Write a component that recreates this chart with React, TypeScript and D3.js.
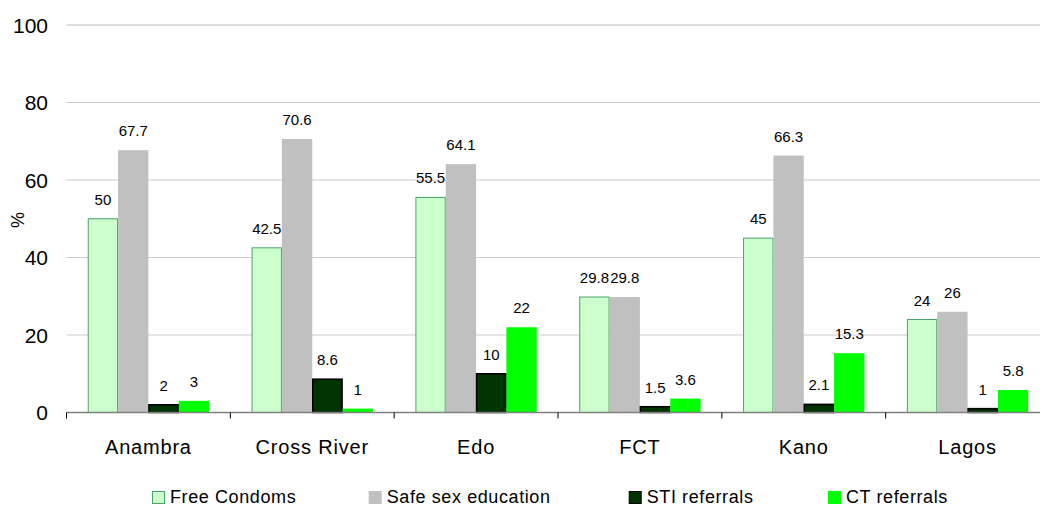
import React from "react";
import * as d3 from "d3";

const categories = ["Anambra", "Cross River", "Edo", "FCT", "Kano", "Lagos"];
const seriesNames = ["Free Condoms", "Safe sex education", "STI referrals", "CT referrals"];
const freeCondoms = [50, 42.5, 55.5, 29.8, 45, 24];
const safeSexEducation = [67.7, 70.6, 64.1, 29.8, 66.3, 26];
const stiReferrals = [2, 8.6, 10, 1.5, 2.1, 1];
const ctReferrals = [3, 1, 22, 3.6, 15.3, 5.8];
const yTicks = [0, 20, 40, 60, 80, 100];

const seriesValues = [freeCondoms, safeSexEducation, stiReferrals, ctReferrals];
const fills = ["#ccffcc", "#c0c0c0", "#003300", "#00ff00"];
const strokes = ["#4aa36b", "none", "#000000", "none"];
const legendTextX = [170, 386.7, 646.7, 846];

const W = 1040;
const H = 507;
const FONT = "'Liberation Sans', Arial, Helvetica, sans-serif";

export default function App() {
  const x0 = d3.scaleBand<string>().domain(categories).range([66.5, 1049.5]).padding(0);
  const x1 = d3
    .scaleBand<string>()
    .domain(seriesNames)
    .range([0, x0.bandwidth()])
    .paddingInner(0)
    .paddingOuter(0.7);
  const y = d3.scaleLinear().domain([0, 100]).range([412.5, 25]);

  const boundaries = categories.map((c) => x0(c) as number);

  return (
    <svg
      width={W}
      height={H}
      style={{ position: "absolute", left: 0, top: 0, background: "#fff" }}
      fontFamily={FONT}
    >
      {yTicks
        .filter((t) => t > 0)
        .map((t) => (
          <line
            key={"g" + t}
            x1={66.5}
            x2={W}
            y1={y(t)}
            y2={y(t)}
            stroke={t === 100 ? "#dcdcdc" : "#cccccc"}
            strokeWidth={t === 100 ? 2 : 1}
          />
        ))}
      {yTicks.map((t) => (
        <text
          key={"yl" + t}
          x={48}
          y={y(t)}
          dy="0.36em"
          textAnchor="end"
          fontSize={21}
          fill="#000"
        >
          {t}
        </text>
      ))}
      <text
        transform={`translate(24,220) rotate(-90)`}
        textAnchor="middle"
        fontSize={18}
        fill="#000"
      >
        %
      </text>
      {categories.map((c, ci) => (
        <g key={c} transform={`translate(${x0(c)},0)`}>
          {seriesNames.map((s, si) => {
            const v = seriesValues[si][ci];
            const bx = x1(s) as number;
            const bw = x1.bandwidth();
            const hasStroke = strokes[si] !== "none";
            return (
              <g key={s}>
                <rect
                  x={bx + (hasStroke ? 0.5 : 0)}
                  y={y(v)}
                  width={bw - (hasStroke ? 1 : 0)}
                  height={y(0) - y(v)}
                  fill={fills[si]}
                  stroke={strokes[si]}
                  strokeWidth={hasStroke ? (si === 2 ? 1.5 : 1) : 0}
                />
                <text
                  x={bx + bw / 2}
                  y={y(v) - 14}
                  textAnchor="middle"
                  fontSize={15}
                  fill="#000"
                >
                  {v}
                </text>
              </g>
            );
          })}
        </g>
      ))}
      <line x1={66.5} x2={W} y1={412.5} y2={412.5} stroke="#808080" strokeWidth={1.5} />
      {boundaries.map((b, i) => (
        <line key={"t" + i} x1={b} x2={b} y1={412.5} y2={418.5} stroke="#000" strokeWidth={1} />
      ))}
      {categories.map((c) => (
        <text
          key={"xl" + c}
          x={(x0(c) as number) + x0.bandwidth() / 2}
          y={453.5}
          textAnchor="middle"
          fontSize={20}
          letterSpacing={0.8}
          fill="#000"
        >
          {c}
        </text>
      ))}
      {seriesNames.map((s, si) => {
        const tx = legendTextX[si];
        const hasStroke = strokes[si] !== "none";
        return (
          <g key={"lg" + s}>
            <rect
              x={tx - 18 + (hasStroke ? 0.5 : 0)}
              y={491 + (hasStroke ? 0.5 : 0)}
              width={13 - (hasStroke ? 1 : 0)}
              height={13 - (hasStroke ? 1 : 0)}
              fill={fills[si]}
              stroke={strokes[si]}
              strokeWidth={hasStroke ? 1 : 0}
            />
            <text x={tx} y={503} fontSize={18} letterSpacing={0.6} fill="#000">
              {s}
            </text>
          </g>
        );
      })}
    </svg>
  );
}
